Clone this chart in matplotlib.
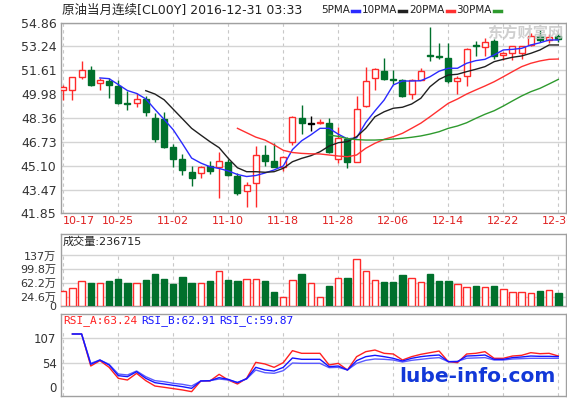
import numpy as np
import matplotlib
matplotlib.use('Agg')
import matplotlib.pyplot as plt
from matplotlib.lines import Line2D

plt.rcParams['font.family'] = ['DejaVu Sans', 'Noto Sans CJK SC']

nan = np.nan
# 日K数据 (从图上读出来的)
tick_dates = ['10-17', '10-25', '11-02', '11-10', '11-18', '11-28', '12-06', '12-14', '12-22', '12-30']
opens = [50.27, 50.30, 51.16, 51.61, 50.75, 50.86, 50.57, 49.39, 49.35, 49.66,
         48.37, 48.30, 46.38, 45.54, 44.68, 44.59, 45.09, 44.98, 45.36, 44.41,
         43.35, 43.89, 45.81, 45.43, 45.02, 46.72, 48.37, 47.97, 47.99, 47.99,
         45.59, 46.95, 45.36, 49.17, 51.09, 51.54, 51.02, 50.98, 49.96, 50.98,
         52.67, 52.56, 52.45, 50.91, 51.20, 53.35, 53.19, 53.62, 52.67, 52.79,
         52.79, 53.35, 53.96, 53.69, 53.96]
highs = [50.64, 51.18, 52.27, 51.88, 51.09, 51.09, 50.98, 50.18, 50.07, 49.89,
         48.71, 48.76, 46.56, 45.93, 45.09, 45.09, 45.43, 46.04, 45.54, 44.59,
         43.96, 46.45, 46.49, 46.63, 45.77, 48.49, 49.21, 48.49, 48.30, 48.37,
         47.76, 47.08, 49.89, 51.81, 51.77, 52.45, 51.66, 51.02, 51.02, 51.77,
         54.60, 53.47, 53.47, 51.25, 53.13, 53.58, 53.81, 53.74, 52.83, 53.28,
         53.28, 54.15, 54.37, 54.10, 54.10]
lows = [49.55, 49.55, 51.02, 50.52, 50.30, 49.69, 49.28, 48.89, 49.12, 48.49,
        46.72, 46.33, 44.98, 44.46, 43.73, 44.23, 44.52, 42.92, 44.37, 43.10,
        42.26, 42.26, 45.09, 44.98, 44.75, 46.52, 47.24, 47.47, 47.92, 46.00,
        45.27, 44.91, 45.32, 49.12, 50.25, 50.93, 50.70, 49.80, 49.66, 50.93,
        52.22, 52.38, 50.75, 50.02, 50.52, 52.56, 52.56, 52.38, 52.33, 52.33,
        52.38, 53.28, 53.51, 53.47, 53.51]
closes = [50.46, 51.16, 51.66, 50.64, 50.98, 50.64, 49.39, 49.32, 49.62, 48.76,
          46.90, 46.40, 45.59, 44.82, 44.23, 44.98, 44.75, 45.43, 44.46, 43.23,
          43.80, 45.81, 45.43, 45.02, 45.66, 48.42, 47.99, 47.97, 48.08, 46.04,
          47.01, 45.32, 48.98, 50.91, 51.70, 51.02, 50.98, 49.89, 50.98, 51.54,
          52.61, 52.49, 50.86, 51.09, 53.06, 53.24, 53.51, 52.61, 52.79, 53.24,
          53.24, 53.92, 53.65, 53.87, 53.74]

ma5 = [nan, nan, nan, nan, 51.09, 51.04, 50.64, 50.23, 50.03, 49.66,
       48.94, 48.26, 47.55, 46.60, 45.62, 45.28, 45.03, 44.91, 44.74, 44.50,
       44.36, 44.43, 44.60, 44.81, 45.08, 46.20, 46.80, 47.20, 47.65, 47.65,
       47.25, 46.93, 47.00, 48.05, 48.84, 49.58, 50.61, 50.88, 50.88, 50.90,
       51.17, 51.55, 51.75, 51.75, 52.09, 52.27, 52.36, 52.66, 53.00, 53.04,
       53.11, 53.34, 53.49, 53.68, 53.68]
ma10 = [nan] * 9 + [50.22, 49.99, 49.60, 48.95, 48.30, 47.65, 47.19, 46.74, 46.33, 45.60,
                    44.96, 44.69, 44.69, 44.65, 44.69, 44.92, 45.37, 45.60, 45.78, 46.05,
                    46.44, 46.67, 46.74, 47.08, 47.65, 48.44, 48.78, 49.02, 49.09, 49.31,
                    49.70, 50.49, 50.99, 51.29, 51.34, 51.52, 51.68, 51.86, 52.20, 52.36,
                    52.50, 52.59, 52.77, 53.00, 53.34, 53.34]
ma20 = [nan] * 19 + [47.65, 47.35, 47.05, 46.85, 46.52, 46.15, 46.00, 45.94, 45.91, 45.90,
                     45.83, 45.76, 45.71, 45.83, 46.29, 46.63, 46.90, 47.08, 47.31, 47.65,
                     48.00, 48.44, 48.90, 49.36, 49.65, 49.99, 50.27, 50.54, 50.83, 51.17,
                     51.52, 51.86, 52.09, 52.25, 52.36, 52.38]
ma30 = [nan] * 29 + [47.19, 47.10, 46.95, 46.88, 46.85, 46.85, 46.88, 46.92, 46.97, 47.04,
                     47.13, 47.26, 47.42, 47.65, 47.81, 48.03, 48.33, 48.61, 48.85, 49.17,
                     49.52, 49.86, 50.15, 50.38, 50.68, 50.99]

# 成交量 (万)
volume = [39.9, 48.0, 67.1, 62.6, 62.6, 67.1, 73.5, 62.6, 62.6, 68.9,
          85.3, 71.6, 58.9, 77.1, 62.6, 62.6, 67.1, 94.3, 70.7, 67.1,
          73.5, 73.5, 67.1, 37.1, 23.5, 70.7, 85.3, 61.7, 23.5, 53.5,
          76.3, 76.3, 128.0, 94.3, 70.7, 64.4, 64.4, 82.5, 76.3, 64.4,
          85.3, 67.1, 67.1, 58.0, 49.8, 52.6, 50.7, 52.6, 46.3, 37.1,
          37.1, 34.4, 40.8, 43.5, 34.4]
vol_ticks = [0, 24.6, 62.2, 99.8, 137]
vol_labels = ['0', '24.6万', '62.2万', '99.8万', '137万']

rsi_a = [nan, 116.4, 116.4, 46.5, 58.2, 43.6, 19.6, 15.9, 30.5, 14.5,
         2.8, 0.0, -2.9, -5.8, -9.5, 13.8, 13.8, 28.3, 15.9, 7.2,
         19.6, 54.5, 50.9, 43.6, 53.8, 80.0, 74.2, 74.2, 74.2, 48.7,
         52.3, 37.8, 66.9, 77.8, 81.4, 74.2, 72.7, 59.6, 66.9, 72.0,
         75.6, 79.2, 56.0, 53.8, 72.7, 74.2, 77.8, 63.3, 63.3, 68.3,
         69.8, 75.6, 73.4, 74.2, 68.3]
rsi_b = [nan, 116.4, 116.4, 50.2, 59.6, 48.7, 25.4, 23.2, 34.1, 19.6,
         10.1, 7.2, 4.3, 1.4, -2.3, 13.8, 14.5, 21.0, 17.4, 10.1,
         18.9, 43.6, 37.8, 35.6, 43.6, 64.0, 61.1, 61.1, 61.1, 45.1,
         46.5, 37.8, 58.2, 66.9, 69.8, 66.9, 63.3, 57.4, 63.3, 66.9,
         69.1, 70.5, 56.0, 56.0, 68.3, 69.1, 70.5, 61.1, 61.1, 64.8,
         66.2, 68.3, 67.6, 67.6, 66.9]
rsi_c = [nan, 116.4, 116.4, 52.3, 59.6, 50.2, 29.0, 26.9, 35.6, 23.2,
         14.5, 12.3, 8.7, 6.5, 2.8, 13.8, 14.5, 18.1, 15.9, 10.8,
         18.1, 37.8, 31.9, 30.5, 36.3, 53.0, 52.3, 52.3, 52.3, 42.9,
         43.6, 37.8, 52.3, 58.9, 61.8, 61.1, 59.6, 55.2, 58.9, 61.1,
         63.3, 64.8, 56.0, 56.7, 63.3, 64.1, 64.8, 59.6, 59.6, 61.8,
         62.6, 63.3, 63.3, 63.3, 63.3]
rsi_ticks = [0, 54, 107]

price_ticks = [41.85, 43.47, 45.10, 46.73, 48.36, 49.98, 51.61, 53.24, 54.86]

W, H = 567, 398
RED = '#ff2a2a'
GREEN = '#00702c'
GRID = '#d4d4d4'
SPINE = '#a0a0a0'


def px(x, y):
    return x / W, 1 - y / H


def style(ax):
    for s in ax.spines.values():
        s.set_color(SPINE)
        s.set_linewidth(1)
    ax.tick_params(length=0, colors='#333333', labelsize=9, pad=3)


o = np.array(opens); h = np.array(highs); l = np.array(lows); c = np.array(closes)
x = np.arange(len(c))
step = 6
grid_idx = x[::step]

edge = np.where(c > o, RED, np.where(c < o, GREEN, 'black'))
fill = np.where(c > o, 'white', np.where(c < o, GREEN, 'black'))

fig = plt.figure(figsize=(W / 100, H / 100), dpi=100)
left, width = 60.7 / W, 505.3 / W
ax1 = fig.add_axes([left, 1 - 213.3 / H, width, 190.6 / H])
ax2 = fig.add_axes([left, 1 - 305.7 / H, width, 71.4 / H], sharex=ax1)
ax3 = fig.add_axes([left, 1 - 396 / H, width, 81.7 / H], sharex=ax1)
xlim = (-0.28, 54.84)

# --- K线 ---
style(ax1)
ax1.vlines(x, l, h, colors=edge, lw=1, zorder=3)
ax1.bar(x, np.maximum(np.abs(c - o), 0.02), bottom=np.minimum(o, c), width=0.66,
        color=fill, edgecolor=edge, lw=1, zorder=4)
ax1.plot(x, ma5, color='#2a2aff', lw=1, zorder=5)
ax1.plot(x, ma10, color='#202020', lw=1, zorder=5)
ax1.plot(x, ma20, color='#ff3030', lw=1, zorder=5)
ax1.plot(x, ma30, color='#2e9a2e', lw=1, zorder=5)
ax1.set_ylim(price_ticks[0], price_ticks[-1])
ax1.set_yticks(price_ticks)
ax1.set_yticklabels(['%.2f' % v for v in price_ticks])
ax1.set_xlim(*xlim)
ax1.set_xticks(grid_idx)
ax1.set_xticklabels(tick_dates)
ax1.tick_params(axis='x', colors='#e02020', labelsize=8, pad=2)
ax1.get_xticklabels()[0].set_ha('left')
ax1.grid(axis='y', color=GRID, lw=1)
ax1.grid(axis='x', color='#c8c8c8', lw=0.8, ls=(0, (3, 3)))
ax1.set_axisbelow(True)

# --- 成交量 ---
style(ax2)
vol_up = c >= o
ax2.bar(x, volume, width=0.7, color=np.where(vol_up, 'white', GREEN),
        edgecolor=np.where(vol_up, RED, GREEN), lw=1, zorder=3)
ax2.set_ylim(0, 194.5)
ax2.set_yticks(vol_ticks)
ax2.set_yticklabels(vol_labels, fontsize=8)
ax2.grid(axis='y', color=GRID, lw=1)
ax2.vlines(grid_idx, 0, vol_ticks[-1], colors='#c8c8c8', lw=0.8, linestyles=(0, (3, 3)), zorder=1)
ax2.tick_params(axis='x', labelbottom=False)
ax2.set_axisbelow(True)

# --- RSI ---
style(ax3)
ax3.plot(x, rsi_a, color='#ff2020', lw=1, zorder=3)
ax3.plot(x, rsi_c, color='#5a5aff', lw=1, zorder=4)
ax3.plot(x, rsi_b, color='#1515ff', lw=1, zorder=5)
ax3.set_ylim(-19, 159.4)
ax3.set_yticks(rsi_ticks)
ax3.set_yticklabels([str(v) for v in rsi_ticks], fontsize=8.5)
ax3.grid(axis='y', color=GRID, lw=1)
ax3.get_ygridlines()[0].set_visible(False)
ax3.vlines(grid_idx, -19, 126, colors='#c8c8c8', lw=0.8, linestyles=(0, (3, 3)), zorder=1)
ax3.tick_params(axis='x', labelbottom=False)
ax3.set_axisbelow(True)
ax3.set_xlim(*xlim)

# 标题和图例
fig.text(*px(62, 10), '原油当月连续[CL00Y] 2016-12-31 03:33', fontsize=9,
         color='#222222', va='center')

renderer = fig.canvas.get_renderer()
cur = 321
for name, col in [('5PMA', '#2a2aff'), ('10PMA', '#202020'),
                  ('20PMA', '#ff3030'), ('30PMA', '#2e9a2e')]:
    t = fig.text(*px(cur, 10), name, fontsize=7.5, color='#222222', va='center')
    bb = t.get_window_extent(renderer)
    x0 = bb.x1 + 2
    fig.add_artist(Line2D([x0 / W, (x0 + 7) / W], [1 - 10.5 / H] * 2, color=col, lw=2.5,
                          transform=fig.transFigure))
    cur = x0 + 10

fig.text(*px(487, 33), '东方财富网', fontsize=11, color='#c4c4c4', weight='bold',
         va='center', alpha=0.8)

fig.text(*px(63, 242), '成交量:236715', fontsize=8, color='#222222', va='center')

for txt, xs, col in [('RSI_A:63.24', 63, '#ff2020'), ('RSI_B:62.91', 141, '#1515ff'),
                     ('RSI_C:59.87', 219, '#1515ff')]:
    fig.text(*px(xs, 321), txt, fontsize=8, color=col, va='center', family='DejaVu Sans Mono')

fig.text(*px(399, 377), 'lube-info.com', fontsize=14.5, color='#1238d8', weight='bold',
         va='center')

fig.savefig('out.png', dpi=100)
